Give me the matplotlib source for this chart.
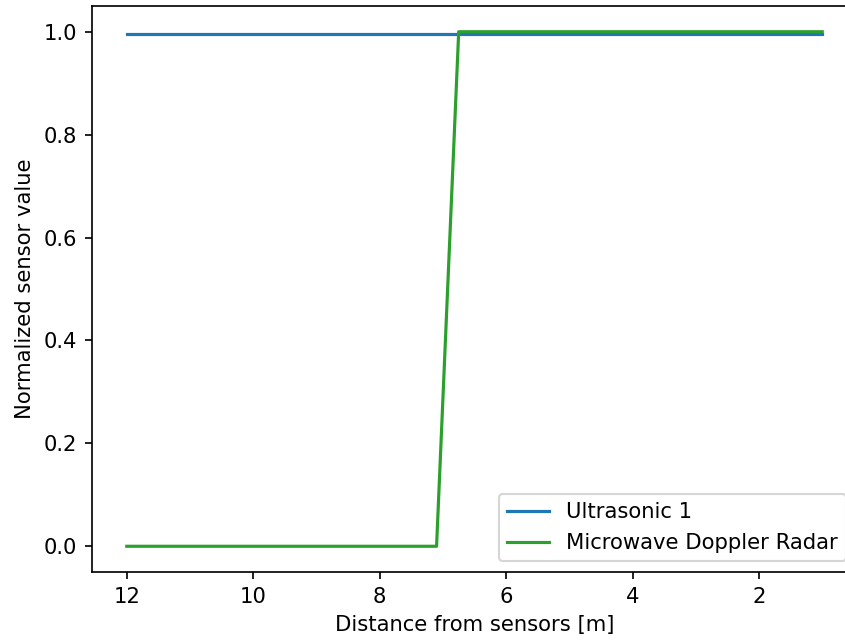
import matplotlib
matplotlib.use("Agg")
import matplotlib.pyplot as plt

# Distance from the sensors (m), sampled where the readings change
distance = [12, 7.1, 6.75, 1]
ultrasonic_1 = [0.996, 0.996, 0.996, 0.996]
microwave_radar = [0.0, 0.0, 1.0, 1.0]

dpi = 152
fig = plt.figure(figsize=(845 / dpi, 641 / dpi), dpi=dpi)
# the reference is cropped on the right, so the axes run past the canvas edge
ax = fig.add_axes([92 / 845, 1 - 572 / 641, 765 / 845, 566 / 641])

ax.plot(distance, ultrasonic_1, color="tab:blue", label="Ultrasonic 1")
ax.plot(distance, microwave_radar, color="tab:green", label="Microwave Doppler Radar")

ax.invert_xaxis()
ax.set_xticks([12, 10, 8, 6, 4, 2])
ax.set_xlabel("Distance from sensors [m]")
ax.set_ylabel("Normalized sensor value")
ax.legend(loc="lower right")

fig.savefig("out.png", dpi=dpi)
